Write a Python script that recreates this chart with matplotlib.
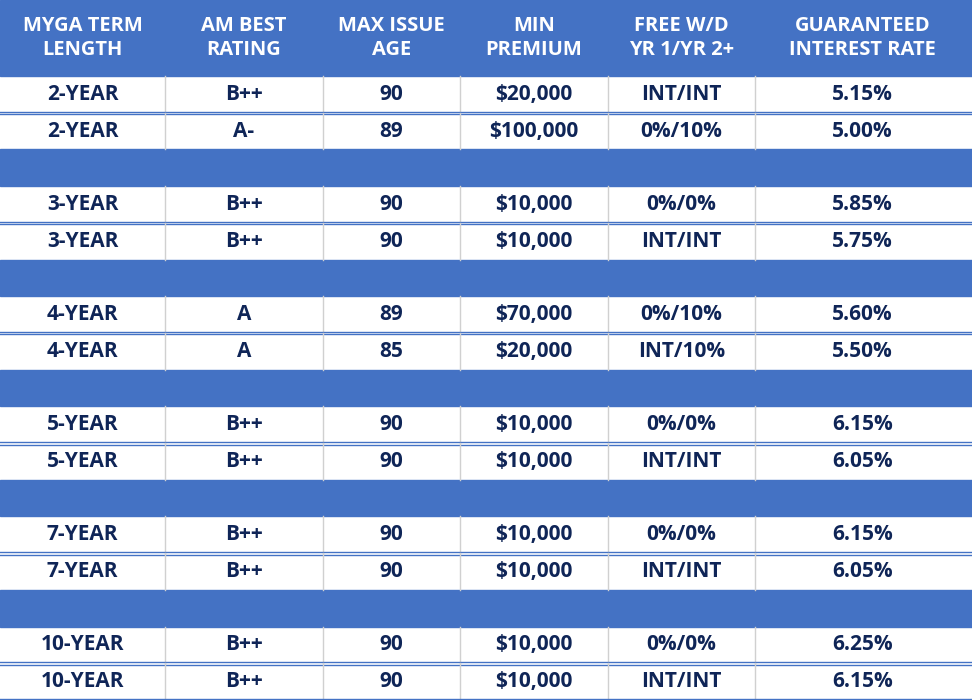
import matplotlib.pyplot as plt
from matplotlib.patches import Rectangle

headers = ["MYGA TERM\nLENGTH", "AM BEST\nRATING", "MAX ISSUE\nAGE", "MIN\nPREMIUM",
           "FREE W/D\nYR 1/YR 2+", "GUARANTEED\nINTEREST RATE"]
terms = ["2-YEAR", "2-YEAR", "3-YEAR", "3-YEAR", "4-YEAR", "4-YEAR",
         "5-YEAR", "5-YEAR", "7-YEAR", "7-YEAR", "10-YEAR", "10-YEAR"]
ratings = ["B++", "A-", "B++", "B++", "A", "A", "B++", "B++", "B++", "B++", "B++", "B++"]
ages = ["90", "89", "90", "90", "89", "85", "90", "90", "90", "90", "90", "90"]
premiums = ["$20,000", "$100,000", "$10,000", "$10,000", "$70,000", "$20,000",
            "$10,000", "$10,000", "$10,000", "$10,000", "$10,000", "$10,000"]
withdrawals = ["INT/INT", "0%/10%", "0%/0%", "INT/INT", "0%/10%", "INT/10%",
               "0%/0%", "INT/INT", "0%/0%", "INT/INT", "0%/0%", "INT/INT"]
rates = ["5.15%", "5.00%", "5.85%", "5.75%", "5.60%", "5.50%",
         "6.15%", "6.05%", "6.15%", "6.05%", "6.25%", "6.15%"]

W, H = 972, 700
blue = "#4472C4"
navy = "#0F2557"
col_edges = [0, 165, 323, 460, 608, 755, 970]
header_h = 76
row_h = (H - header_h) / 17.0

fig = plt.figure(figsize=(W / 100, H / 100), dpi=100)
ax = fig.add_axes([0, 0, 1, 1])
ax.set_xlim(0, W)
ax.set_ylim(H, 0)
ax.axis("off")
font = "Open Sans"

ax.add_patch(Rectangle((0, 0), W, header_h, color=blue))
for c, h in enumerate(headers):
    xc = (col_edges[c] + col_edges[c + 1]) / 2
    ax.text(xc, header_h / 2, h, ha="center", va="center", color="white",
            fontsize=14.5, fontweight="bold", family=font, linespacing=1.25)

cols = [terms, ratings, ages, premiums, withdrawals, rates]
y = header_h
for i in range(12):
    if i > 0 and i % 2 == 0:
        ax.add_patch(Rectangle((0, y), W, row_h, color=blue))
        y += row_h
    for e in col_edges[1:-1]:
        ax.plot([e, e], [y, y + row_h], color="#D0D0D0", lw=1)
    for c, vals in enumerate(cols):
        xc = (col_edges[c] + col_edges[c + 1]) / 2
        ax.text(xc, y + row_h / 2, vals[i], ha="center", va="center", color=navy,
                fontsize=15, fontweight="bold", family=font)
    if i % 2 == 0 or i == 11:
        ax.plot([0, W], [y + row_h - 1, y + row_h - 1], color=blue, lw=1)
        ax.plot([0, W], [y + row_h + 1.5, y + row_h + 1.5], color=blue, lw=1)
    y += row_h

fig.savefig("out.png", dpi=100)
